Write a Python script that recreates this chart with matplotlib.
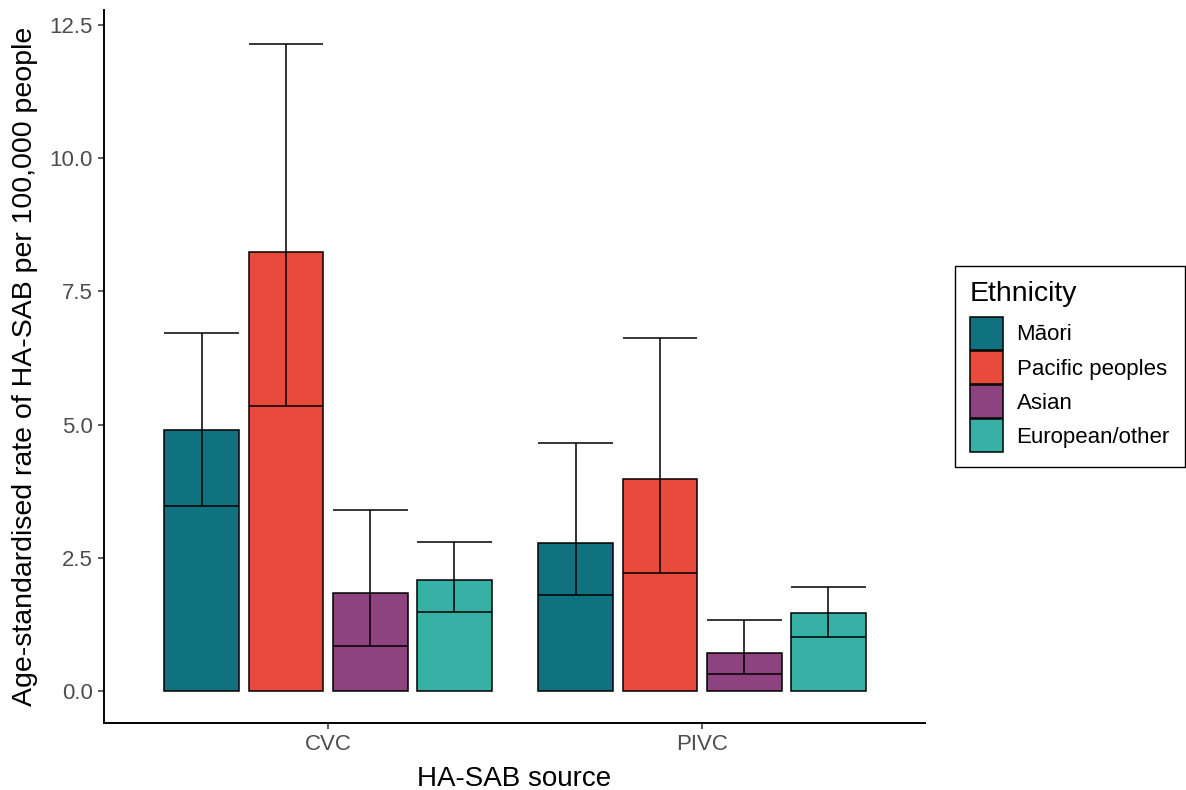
import numpy as np
import matplotlib.pyplot as plt
from matplotlib.patches import Patch

plt.rcParams['font.family'] = ['Liberation Sans', 'DejaVu Sans']

sources = ["CVC", "PIVC"]
ethnicities = ["Māori", "Pacific peoples", "Asian", "European/other"]
colors = ["#10717F", "#E84A3C", "#8E4381", "#37B1A6"]

# age-standardised rate with lower / upper confidence limits, per ethnicity [CVC, PIVC]
rate = {
    "Māori": [4.90, 2.78],
    "Pacific peoples": [8.24, 3.98],
    "Asian": [1.84, 0.71],
    "European/other": [2.08, 1.46],
}
lower = {
    "Māori": [3.47, 1.80],
    "Pacific peoples": [5.35, 2.21],
    "Asian": [0.85, 0.32],
    "European/other": [1.48, 1.01],
}
upper = {
    "Māori": [6.72, 4.65],
    "Pacific peoples": [12.14, 6.63],
    "Asian": [3.40, 1.33],
    "European/other": [2.80, 1.95],
}

fig = plt.figure(figsize=(11.86, 7.90), dpi=100)
ax = fig.add_axes([104 / 1186, 1 - 723 / 790, (925 - 104) / 1186, (723 - 10) / 790])

x = np.arange(1, len(sources) + 1)
dodge = 0.9 / len(ethnicities)
bw = 0.2
for i, eth in enumerate(ethnicities):
    xi = x + (i - 1.5) * dodge
    ax.bar(xi, rate[eth], width=bw, color=colors[i], edgecolor="black",
           linewidth=1.1, zorder=2)
    ax.vlines(xi, lower[eth], upper[eth], color="black", linewidth=1.1, zorder=3)
    ax.hlines(lower[eth], xi - bw / 2, xi + bw / 2, color="black", linewidth=1.1, zorder=3)
    ax.hlines(upper[eth], xi - bw / 2, xi + bw / 2, color="black", linewidth=1.1, zorder=3)

ax.set_xlim(0.401, 2.596)
ax.set_ylim(-0.6, 12.78)
ax.set_xticks(x)
ax.set_xticklabels(sources)
ax.set_yticks([0, 2.5, 5, 7.5, 10, 12.5])
ax.set_yticklabels(["0.0", "2.5", "5.0", "7.5", "10.0", "12.5"])
ax.tick_params(labelsize=16, colors="#4d4d4d", length=4, width=1.1, pad=4)
ax.tick_params(axis="both", color="#333333")
for s in ["top", "right"]:
    ax.spines[s].set_visible(False)
for s in ["left", "bottom"]:
    ax.spines[s].set_linewidth(1.4)
    ax.spines[s].set_color("black")

ax.set_xlabel("HA-SAB source", fontsize=20, labelpad=8)
ax.set_ylabel("Age-standardised rate of HA-SAB per 100,000 people", fontsize=20.5, labelpad=8)

handles = [Patch(facecolor=c, edgecolor="black", linewidth=1.1) for c in colors]
leg = fig.legend(handles, ethnicities, loc="upper left",
                 bbox_to_anchor=(955 / 1186, 1 - 266 / 790), borderaxespad=0,
                 fontsize=16, title="Ethnicity", title_fontsize=20.5,
                 handlelength=1.49, handleheight=1.91, handletextpad=0.6,
                 labelspacing=0.05, borderpad=0.68, fancybox=False,
                 edgecolor="black", framealpha=1, alignment="left")
leg.get_frame().set_linewidth(1.0)
# a little more room between the title and the keys
leg._legend_box.sep = 7

fig.savefig("out.png", dpi=100)
